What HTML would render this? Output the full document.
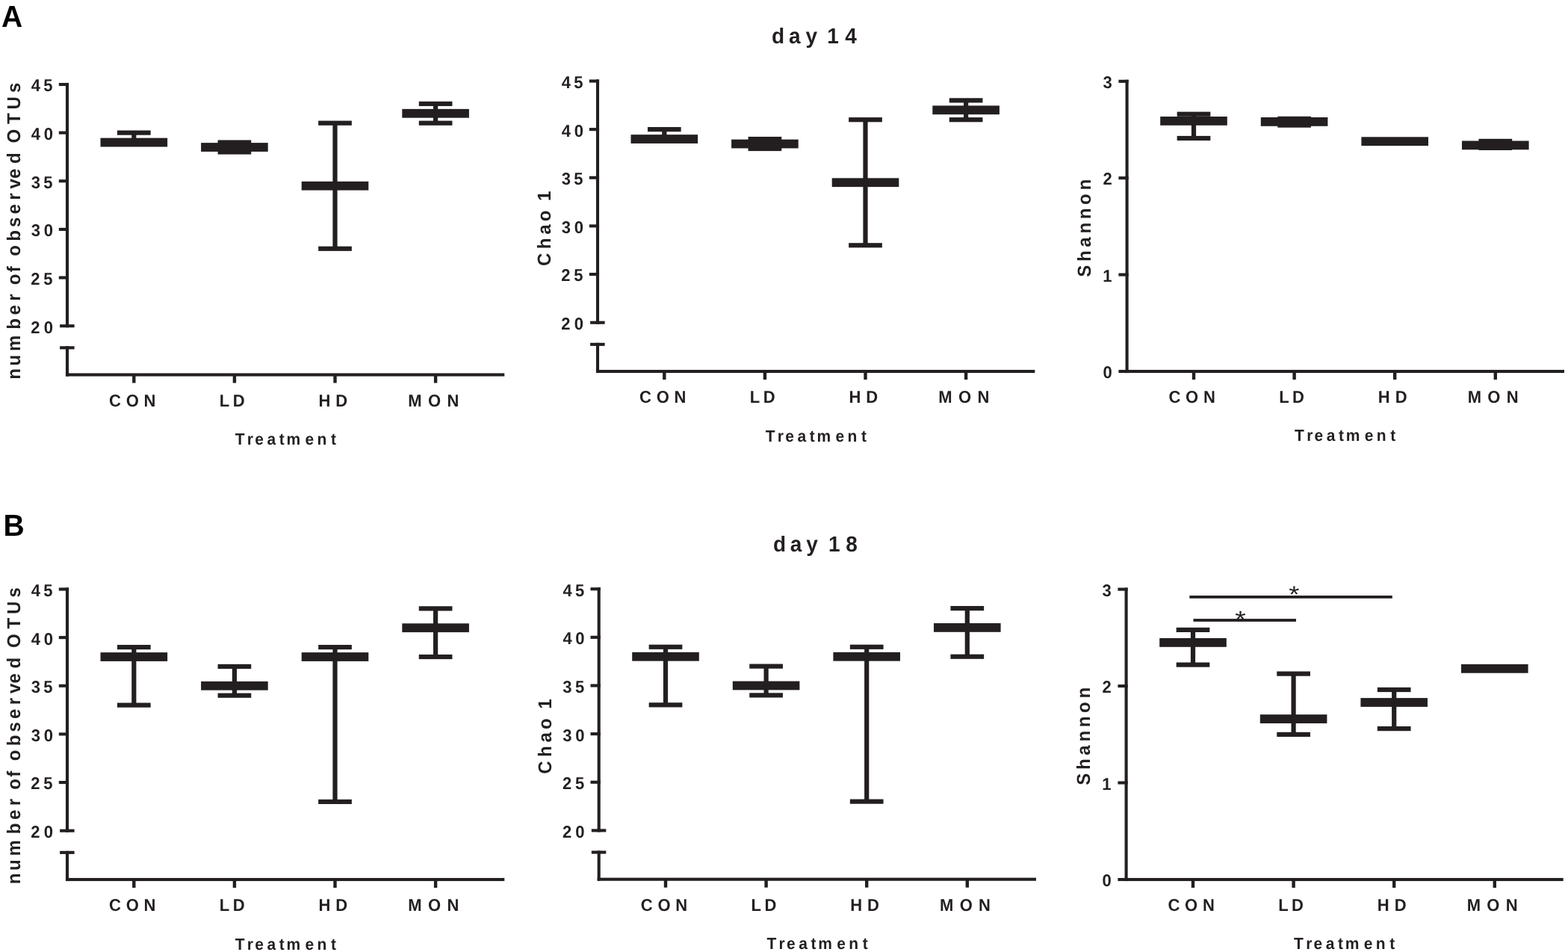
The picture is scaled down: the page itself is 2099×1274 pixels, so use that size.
<!DOCTYPE html>
<html><head><meta charset="utf-8"><style>
html,body{margin:0;padding:0;background:#fff;}
svg{display:block;}
text{font-family:"Liberation Sans",Arial,sans-serif;font-kerning:none;font-variant-ligatures:none;text-rendering:geometricPrecision;}
</style></head><body>
<svg width="2099" height="1274" viewBox="0 0 2099 1274">
<rect width="2099" height="1274" fill="#fff"/>
<text transform="translate(2.02,36.00) scale(0.9609,1)" font-size="40.59" font-weight="bold" letter-spacing="0.00" fill="#000">A</text>
<text transform="translate(4.46,716.80) scale(0.9609,1)" font-size="40.59" font-weight="bold" letter-spacing="0.00" fill="#000">B</text>
<text transform="translate(0,57.90) scale(0.9609,1)" x="1075.02 1098.94 1122.45 1138.66 1152.20 1177.22" font-size="29.14" font-weight="bold" fill="#231f20">day 14</text>
<text transform="translate(0,737.90) scale(0.9609,1)" x="1077.10 1100.81 1123.08 1139.29 1154.23 1178.44" font-size="29.14" font-weight="bold" fill="#231f20">day 18</text>
<rect x="87.95" y="110.95" width="4.10" height="327.30" fill="#231f20"/>
<rect x="78.80" y="110.95" width="13.25" height="4.10" fill="#231f20"/>
<rect x="78.80" y="175.59" width="13.25" height="4.10" fill="#231f20"/>
<rect x="78.80" y="240.23" width="13.25" height="4.10" fill="#231f20"/>
<rect x="78.80" y="304.87" width="13.25" height="4.10" fill="#231f20"/>
<rect x="78.80" y="369.51" width="13.25" height="4.10" fill="#231f20"/>
<rect x="80.10" y="434.15" width="19.50" height="4.10" fill="#231f20"/>
<rect x="80.10" y="463.30" width="19.50" height="4.10" fill="#231f20"/>
<rect x="87.95" y="463.30" width="4.10" height="40.25" fill="#231f20"/>
<rect x="87.95" y="499.45" width="587.35" height="4.10" fill="#231f20"/>
<rect x="177.10" y="501.50" width="4.40" height="11.00" fill="#231f20"/>
<rect x="311.70" y="501.50" width="4.40" height="11.00" fill="#231f20"/>
<rect x="446.30" y="501.50" width="4.40" height="11.00" fill="#231f20"/>
<rect x="580.90" y="501.50" width="4.40" height="11.00" fill="#231f20"/>
<text transform="translate(41.77,122.40) scale(0.9609,1)" font-size="22.90" font-weight="bold" letter-spacing="4.51" fill="#231f20">45</text>
<text transform="translate(41.77,187.04) scale(0.9609,1)" font-size="22.90" font-weight="bold" letter-spacing="4.85" fill="#231f20">40</text>
<text transform="translate(41.66,251.68) scale(0.9609,1)" font-size="22.90" font-weight="bold" letter-spacing="4.63" fill="#231f20">35</text>
<text transform="translate(41.66,316.32) scale(0.9609,1)" font-size="22.90" font-weight="bold" letter-spacing="4.97" fill="#231f20">30</text>
<text transform="translate(41.33,380.96) scale(0.9609,1)" font-size="22.90" font-weight="bold" letter-spacing="4.97" fill="#231f20">25</text>
<text transform="translate(41.33,445.60) scale(0.9609,1)" font-size="22.90" font-weight="bold" letter-spacing="5.31" fill="#231f20">20</text>
<text transform="translate(146.12,543.80) scale(0.9609,1)" font-size="22.90" font-weight="bold" letter-spacing="7.01" fill="#231f20">CON</text>
<text transform="translate(293.87,543.80) scale(0.9609,1)" font-size="22.90" font-weight="bold" letter-spacing="4.61" fill="#231f20">LD</text>
<text transform="translate(426.57,543.80) scale(0.9609,1)" font-size="22.90" font-weight="bold" letter-spacing="7.16" fill="#231f20">HD</text>
<text transform="translate(546.37,543.80) scale(0.9609,1)" font-size="22.90" font-weight="bold" letter-spacing="8.63" fill="#231f20">MON</text>
<text transform="translate(0,595.00) scale(0.9609,1)" x="327.60 344.30 355.15 372.02 389.00 399.14 425.08 441.81 461.02" font-size="21.85" font-weight="bold" fill="#231f20">Treatment</text>
<text transform="translate(27.00,0) rotate(-90) scale(0.9609,1)" x="-528.53 -509.46 -489.09 -458.70 -438.61 -419.26 -409.54 -396.88 -379.08 -370.77 -356.61 -335.95 -316.31 -298.12 -278.55 -262.90 -248.69 -227.87 -212.61 -199.36 -172.69 -152.50 -129.09" font-size="24.98" font-weight="bold" fill="#231f20">number of observed OTUs</text>
<rect x="176.20" y="177.64" width="6.20" height="12.93" fill="#231f20"/>
<rect x="156.95" y="174.54" width="44.70" height="6.20" fill="#231f20"/>
<rect x="156.95" y="187.47" width="44.70" height="6.20" fill="#231f20"/>
<rect x="134.50" y="184.67" width="89.60" height="11.80" fill="#231f20"/>
<rect x="310.80" y="190.57" width="6.20" height="12.93" fill="#231f20"/>
<rect x="291.55" y="187.47" width="44.70" height="6.20" fill="#231f20"/>
<rect x="291.55" y="200.40" width="44.70" height="6.20" fill="#231f20"/>
<rect x="269.10" y="191.13" width="89.60" height="11.80" fill="#231f20"/>
<rect x="445.40" y="164.71" width="6.20" height="168.06" fill="#231f20"/>
<rect x="426.15" y="161.61" width="44.70" height="6.20" fill="#231f20"/>
<rect x="426.15" y="329.68" width="44.70" height="6.20" fill="#231f20"/>
<rect x="403.70" y="242.84" width="89.60" height="11.80" fill="#231f20"/>
<rect x="580.00" y="138.86" width="6.20" height="25.86" fill="#231f20"/>
<rect x="560.75" y="135.76" width="44.70" height="6.20" fill="#231f20"/>
<rect x="560.75" y="161.61" width="44.70" height="6.20" fill="#231f20"/>
<rect x="538.30" y="145.88" width="89.60" height="11.80" fill="#231f20"/>
<rect x="797.95" y="106.45" width="4.10" height="327.30" fill="#231f20"/>
<rect x="788.80" y="106.45" width="13.25" height="4.10" fill="#231f20"/>
<rect x="788.80" y="171.09" width="13.25" height="4.10" fill="#231f20"/>
<rect x="788.80" y="235.73" width="13.25" height="4.10" fill="#231f20"/>
<rect x="788.80" y="300.37" width="13.25" height="4.10" fill="#231f20"/>
<rect x="788.80" y="365.01" width="13.25" height="4.10" fill="#231f20"/>
<rect x="790.10" y="429.65" width="19.50" height="4.10" fill="#231f20"/>
<rect x="790.10" y="458.80" width="19.50" height="4.10" fill="#231f20"/>
<rect x="797.95" y="458.80" width="4.10" height="40.25" fill="#231f20"/>
<rect x="797.95" y="494.95" width="587.35" height="4.10" fill="#231f20"/>
<rect x="887.10" y="497.00" width="4.40" height="11.00" fill="#231f20"/>
<rect x="1021.70" y="497.00" width="4.40" height="11.00" fill="#231f20"/>
<rect x="1156.30" y="497.00" width="4.40" height="11.00" fill="#231f20"/>
<rect x="1290.90" y="497.00" width="4.40" height="11.00" fill="#231f20"/>
<text transform="translate(751.77,117.90) scale(0.9609,1)" font-size="22.90" font-weight="bold" letter-spacing="4.51" fill="#231f20">45</text>
<text transform="translate(751.77,182.54) scale(0.9609,1)" font-size="22.90" font-weight="bold" letter-spacing="4.85" fill="#231f20">40</text>
<text transform="translate(751.66,247.18) scale(0.9609,1)" font-size="22.90" font-weight="bold" letter-spacing="4.63" fill="#231f20">35</text>
<text transform="translate(751.66,311.82) scale(0.9609,1)" font-size="22.90" font-weight="bold" letter-spacing="4.97" fill="#231f20">30</text>
<text transform="translate(751.33,376.46) scale(0.9609,1)" font-size="22.90" font-weight="bold" letter-spacing="4.97" fill="#231f20">25</text>
<text transform="translate(751.33,441.10) scale(0.9609,1)" font-size="22.90" font-weight="bold" letter-spacing="5.31" fill="#231f20">20</text>
<text transform="translate(856.12,539.30) scale(0.9609,1)" font-size="22.90" font-weight="bold" letter-spacing="7.01" fill="#231f20">CON</text>
<text transform="translate(1003.87,539.30) scale(0.9609,1)" font-size="22.90" font-weight="bold" letter-spacing="4.61" fill="#231f20">LD</text>
<text transform="translate(1136.57,539.30) scale(0.9609,1)" font-size="22.90" font-weight="bold" letter-spacing="7.16" fill="#231f20">HD</text>
<text transform="translate(1256.37,539.30) scale(0.9609,1)" font-size="22.90" font-weight="bold" letter-spacing="8.63" fill="#231f20">MON</text>
<text transform="translate(0,590.50) scale(0.9609,1)" x="1066.50 1083.19 1094.04 1110.91 1127.90 1138.04 1163.98 1180.71 1199.91" font-size="21.85" font-weight="bold" fill="#231f20">Treatment</text>
<text transform="translate(737.00,0) rotate(-90) scale(0.9609,1)" x="-370.45 -346.74 -326.59 -308.32 -293.06 -279.89" font-size="24.98" font-weight="bold" fill="#231f20">Chao 1</text>
<rect x="886.20" y="173.14" width="6.20" height="12.93" fill="#231f20"/>
<rect x="866.95" y="170.04" width="44.70" height="6.20" fill="#231f20"/>
<rect x="866.95" y="182.97" width="44.70" height="6.20" fill="#231f20"/>
<rect x="844.50" y="180.17" width="89.60" height="11.80" fill="#231f20"/>
<rect x="1020.80" y="186.07" width="6.20" height="12.93" fill="#231f20"/>
<rect x="1001.55" y="182.97" width="44.70" height="6.20" fill="#231f20"/>
<rect x="1001.55" y="195.90" width="44.70" height="6.20" fill="#231f20"/>
<rect x="979.10" y="186.63" width="89.60" height="11.80" fill="#231f20"/>
<rect x="1155.40" y="160.21" width="6.20" height="168.06" fill="#231f20"/>
<rect x="1136.15" y="157.11" width="44.70" height="6.20" fill="#231f20"/>
<rect x="1136.15" y="325.18" width="44.70" height="6.20" fill="#231f20"/>
<rect x="1113.70" y="238.34" width="89.60" height="11.80" fill="#231f20"/>
<rect x="1290.00" y="134.36" width="6.20" height="25.86" fill="#231f20"/>
<rect x="1270.75" y="131.26" width="44.70" height="6.20" fill="#231f20"/>
<rect x="1270.75" y="157.11" width="44.70" height="6.20" fill="#231f20"/>
<rect x="1248.30" y="141.38" width="89.60" height="11.80" fill="#231f20"/>
<rect x="87.95" y="786.45" width="4.10" height="327.30" fill="#231f20"/>
<rect x="78.80" y="786.45" width="13.25" height="4.10" fill="#231f20"/>
<rect x="78.80" y="851.09" width="13.25" height="4.10" fill="#231f20"/>
<rect x="78.80" y="915.73" width="13.25" height="4.10" fill="#231f20"/>
<rect x="78.80" y="980.37" width="13.25" height="4.10" fill="#231f20"/>
<rect x="78.80" y="1045.01" width="13.25" height="4.10" fill="#231f20"/>
<rect x="80.10" y="1109.65" width="19.50" height="4.10" fill="#231f20"/>
<rect x="80.10" y="1138.80" width="19.50" height="4.10" fill="#231f20"/>
<rect x="87.95" y="1138.80" width="4.10" height="40.25" fill="#231f20"/>
<rect x="87.95" y="1174.95" width="587.35" height="4.10" fill="#231f20"/>
<rect x="177.10" y="1177.00" width="4.40" height="11.00" fill="#231f20"/>
<rect x="311.70" y="1177.00" width="4.40" height="11.00" fill="#231f20"/>
<rect x="446.30" y="1177.00" width="4.40" height="11.00" fill="#231f20"/>
<rect x="580.90" y="1177.00" width="4.40" height="11.00" fill="#231f20"/>
<text transform="translate(41.77,797.90) scale(0.9609,1)" font-size="22.90" font-weight="bold" letter-spacing="4.51" fill="#231f20">45</text>
<text transform="translate(41.77,862.54) scale(0.9609,1)" font-size="22.90" font-weight="bold" letter-spacing="4.85" fill="#231f20">40</text>
<text transform="translate(41.66,927.18) scale(0.9609,1)" font-size="22.90" font-weight="bold" letter-spacing="4.63" fill="#231f20">35</text>
<text transform="translate(41.66,991.82) scale(0.9609,1)" font-size="22.90" font-weight="bold" letter-spacing="4.97" fill="#231f20">30</text>
<text transform="translate(41.33,1056.46) scale(0.9609,1)" font-size="22.90" font-weight="bold" letter-spacing="4.97" fill="#231f20">25</text>
<text transform="translate(41.33,1121.10) scale(0.9609,1)" font-size="22.90" font-weight="bold" letter-spacing="5.31" fill="#231f20">20</text>
<text transform="translate(146.12,1219.30) scale(0.9609,1)" font-size="22.90" font-weight="bold" letter-spacing="7.01" fill="#231f20">CON</text>
<text transform="translate(293.87,1219.30) scale(0.9609,1)" font-size="22.90" font-weight="bold" letter-spacing="4.61" fill="#231f20">LD</text>
<text transform="translate(426.57,1219.30) scale(0.9609,1)" font-size="22.90" font-weight="bold" letter-spacing="7.16" fill="#231f20">HD</text>
<text transform="translate(546.37,1219.30) scale(0.9609,1)" font-size="22.90" font-weight="bold" letter-spacing="8.63" fill="#231f20">MON</text>
<text transform="translate(0,1270.50) scale(0.9609,1)" x="327.60 344.30 355.15 372.02 389.00 399.14 425.08 441.81 461.02" font-size="21.85" font-weight="bold" fill="#231f20">Treatment</text>
<text transform="translate(27.00,0) rotate(-90) scale(0.9609,1)" x="-1231.52 -1212.45 -1192.08 -1161.69 -1141.60 -1122.25 -1112.53 -1099.87 -1082.08 -1073.76 -1059.60 -1038.94 -1019.30 -1001.11 -981.54 -965.89 -951.68 -930.86 -915.61 -902.35 -875.68 -855.50 -832.08" font-size="24.98" font-weight="bold" fill="#231f20">number of observed OTUs</text>
<rect x="176.20" y="866.07" width="6.20" height="77.57" fill="#231f20"/>
<rect x="156.95" y="862.97" width="44.70" height="6.20" fill="#231f20"/>
<rect x="156.95" y="940.54" width="44.70" height="6.20" fill="#231f20"/>
<rect x="134.50" y="873.10" width="89.60" height="11.80" fill="#231f20"/>
<rect x="310.80" y="891.92" width="6.20" height="38.78" fill="#231f20"/>
<rect x="291.55" y="888.82" width="44.70" height="6.20" fill="#231f20"/>
<rect x="291.55" y="927.61" width="44.70" height="6.20" fill="#231f20"/>
<rect x="269.10" y="911.88" width="89.60" height="11.80" fill="#231f20"/>
<rect x="445.40" y="866.07" width="6.20" height="206.85" fill="#231f20"/>
<rect x="426.15" y="862.97" width="44.70" height="6.20" fill="#231f20"/>
<rect x="426.15" y="1069.82" width="44.70" height="6.20" fill="#231f20"/>
<rect x="403.70" y="873.10" width="89.60" height="11.80" fill="#231f20"/>
<rect x="580.00" y="814.36" width="6.20" height="64.64" fill="#231f20"/>
<rect x="560.75" y="811.26" width="44.70" height="6.20" fill="#231f20"/>
<rect x="560.75" y="875.90" width="44.70" height="6.20" fill="#231f20"/>
<rect x="538.30" y="834.31" width="89.60" height="11.80" fill="#231f20"/>
<rect x="799.65" y="786.15" width="4.10" height="327.30" fill="#231f20"/>
<rect x="790.50" y="786.15" width="13.25" height="4.10" fill="#231f20"/>
<rect x="790.50" y="850.79" width="13.25" height="4.10" fill="#231f20"/>
<rect x="790.50" y="915.43" width="13.25" height="4.10" fill="#231f20"/>
<rect x="790.50" y="980.07" width="13.25" height="4.10" fill="#231f20"/>
<rect x="790.50" y="1044.71" width="13.25" height="4.10" fill="#231f20"/>
<rect x="791.80" y="1109.35" width="19.50" height="4.10" fill="#231f20"/>
<rect x="791.80" y="1138.50" width="19.50" height="4.10" fill="#231f20"/>
<rect x="799.65" y="1138.50" width="4.10" height="40.25" fill="#231f20"/>
<rect x="799.65" y="1174.65" width="587.35" height="4.10" fill="#231f20"/>
<rect x="888.80" y="1176.70" width="4.40" height="11.00" fill="#231f20"/>
<rect x="1023.40" y="1176.70" width="4.40" height="11.00" fill="#231f20"/>
<rect x="1158.00" y="1176.70" width="4.40" height="11.00" fill="#231f20"/>
<rect x="1292.60" y="1176.70" width="4.40" height="11.00" fill="#231f20"/>
<text transform="translate(753.47,797.60) scale(0.9609,1)" font-size="22.90" font-weight="bold" letter-spacing="4.51" fill="#231f20">45</text>
<text transform="translate(753.47,862.24) scale(0.9609,1)" font-size="22.90" font-weight="bold" letter-spacing="4.85" fill="#231f20">40</text>
<text transform="translate(753.36,926.88) scale(0.9609,1)" font-size="22.90" font-weight="bold" letter-spacing="4.63" fill="#231f20">35</text>
<text transform="translate(753.36,991.52) scale(0.9609,1)" font-size="22.90" font-weight="bold" letter-spacing="4.97" fill="#231f20">30</text>
<text transform="translate(753.03,1056.16) scale(0.9609,1)" font-size="22.90" font-weight="bold" letter-spacing="4.97" fill="#231f20">25</text>
<text transform="translate(753.03,1120.80) scale(0.9609,1)" font-size="22.90" font-weight="bold" letter-spacing="5.31" fill="#231f20">20</text>
<text transform="translate(857.82,1219.00) scale(0.9609,1)" font-size="22.90" font-weight="bold" letter-spacing="7.01" fill="#231f20">CON</text>
<text transform="translate(1005.57,1219.00) scale(0.9609,1)" font-size="22.90" font-weight="bold" letter-spacing="4.61" fill="#231f20">LD</text>
<text transform="translate(1138.27,1219.00) scale(0.9609,1)" font-size="22.90" font-weight="bold" letter-spacing="7.16" fill="#231f20">HD</text>
<text transform="translate(1258.07,1219.00) scale(0.9609,1)" font-size="22.90" font-weight="bold" letter-spacing="8.63" fill="#231f20">MON</text>
<text transform="translate(0,1270.20) scale(0.9609,1)" x="1068.27 1084.96 1095.81 1112.68 1129.67 1139.81 1165.75 1182.48 1201.68" font-size="21.85" font-weight="bold" fill="#231f20">Treatment</text>
<text transform="translate(737.80,0) rotate(-90) scale(0.9609,1)" x="-1077.91 -1054.21 -1034.06 -1015.78 -1000.53 -987.35" font-size="24.98" font-weight="bold" fill="#231f20">Chao 1</text>
<rect x="887.90" y="865.77" width="6.20" height="77.57" fill="#231f20"/>
<rect x="868.65" y="862.67" width="44.70" height="6.20" fill="#231f20"/>
<rect x="868.65" y="940.24" width="44.70" height="6.20" fill="#231f20"/>
<rect x="846.20" y="872.80" width="89.60" height="11.80" fill="#231f20"/>
<rect x="1022.50" y="891.62" width="6.20" height="38.78" fill="#231f20"/>
<rect x="1003.25" y="888.52" width="44.70" height="6.20" fill="#231f20"/>
<rect x="1003.25" y="927.31" width="44.70" height="6.20" fill="#231f20"/>
<rect x="980.80" y="911.58" width="89.60" height="11.80" fill="#231f20"/>
<rect x="1157.10" y="865.77" width="6.20" height="206.85" fill="#231f20"/>
<rect x="1137.85" y="862.67" width="44.70" height="6.20" fill="#231f20"/>
<rect x="1137.85" y="1069.52" width="44.70" height="6.20" fill="#231f20"/>
<rect x="1115.40" y="872.80" width="89.60" height="11.80" fill="#231f20"/>
<rect x="1291.70" y="814.06" width="6.20" height="64.64" fill="#231f20"/>
<rect x="1272.45" y="810.96" width="44.70" height="6.20" fill="#231f20"/>
<rect x="1272.45" y="875.60" width="44.70" height="6.20" fill="#231f20"/>
<rect x="1250.00" y="834.01" width="89.60" height="11.80" fill="#231f20"/>
<rect x="1506.55" y="106.75" width="4.10" height="392.30" fill="#231f20"/>
<rect x="1497.40" y="494.95" width="13.25" height="4.10" fill="#231f20"/>
<text transform="translate(1476.57,506.20) scale(0.9609,1)" font-size="22.90" font-weight="bold" letter-spacing="0.00" fill="#231f20">0</text>
<rect x="1497.40" y="365.55" width="13.25" height="4.10" fill="#231f20"/>
<text transform="translate(1476.24,376.80) scale(0.9609,1)" font-size="22.90" font-weight="bold" letter-spacing="0.00" fill="#231f20">1</text>
<rect x="1497.40" y="236.15" width="13.25" height="4.10" fill="#231f20"/>
<text transform="translate(1476.57,247.40) scale(0.9609,1)" font-size="22.90" font-weight="bold" letter-spacing="0.00" fill="#231f20">2</text>
<rect x="1497.40" y="106.75" width="13.25" height="4.10" fill="#231f20"/>
<text transform="translate(1476.46,118.00) scale(0.9609,1)" font-size="22.90" font-weight="bold" letter-spacing="0.00" fill="#231f20">3</text>
<rect x="1506.55" y="494.95" width="587.45" height="4.10" fill="#231f20"/>
<rect x="1595.80" y="497.00" width="4.40" height="11.00" fill="#231f20"/>
<rect x="1730.40" y="497.00" width="4.40" height="11.00" fill="#231f20"/>
<rect x="1865.00" y="497.00" width="4.40" height="11.00" fill="#231f20"/>
<rect x="1999.60" y="497.00" width="4.40" height="11.00" fill="#231f20"/>
<text transform="translate(1564.42,539.00) scale(0.9609,1)" font-size="22.90" font-weight="bold" letter-spacing="7.01" fill="#231f20">CON</text>
<text transform="translate(1712.17,539.00) scale(0.9609,1)" font-size="22.90" font-weight="bold" letter-spacing="4.61" fill="#231f20">LD</text>
<text transform="translate(1844.87,539.00) scale(0.9609,1)" font-size="22.90" font-weight="bold" letter-spacing="7.16" fill="#231f20">HD</text>
<text transform="translate(1964.67,539.00) scale(0.9609,1)" font-size="22.90" font-weight="bold" letter-spacing="8.63" fill="#231f20">MON</text>
<text transform="translate(0,590.20) scale(0.9609,1)" x="1803.62 1820.32 1831.17 1848.04 1865.02 1875.17 1901.10 1917.83 1937.04" font-size="21.85" font-weight="bold" fill="#231f20">Treatment</text>
<text transform="translate(1459.60,370.72) rotate(-90) scale(0.9609,1)" font-size="24.98" font-weight="bold" letter-spacing="4.89" fill="#231f20">Shannon</text>
<rect x="1594.90" y="152.70" width="6.20" height="32.30" fill="#231f20"/>
<rect x="1575.65" y="149.60" width="44.70" height="6.20" fill="#231f20"/>
<rect x="1575.65" y="181.90" width="44.70" height="6.20" fill="#231f20"/>
<rect x="1553.20" y="156.00" width="89.60" height="11.80" fill="#231f20"/>
<rect x="1729.50" y="158.90" width="6.20" height="8.70" fill="#231f20"/>
<rect x="1710.25" y="155.80" width="44.70" height="6.20" fill="#231f20"/>
<rect x="1710.25" y="164.50" width="44.70" height="6.20" fill="#231f20"/>
<rect x="1687.80" y="157.00" width="89.60" height="11.80" fill="#231f20"/>
<rect x="1844.85" y="186.10" width="44.70" height="6.20" fill="#231f20"/>
<rect x="1844.85" y="186.10" width="44.70" height="6.20" fill="#231f20"/>
<rect x="1822.40" y="183.30" width="89.60" height="11.80" fill="#231f20"/>
<rect x="1998.70" y="188.90" width="6.20" height="9.00" fill="#231f20"/>
<rect x="1979.45" y="185.80" width="44.70" height="6.20" fill="#231f20"/>
<rect x="1979.45" y="194.80" width="44.70" height="6.20" fill="#231f20"/>
<rect x="1957.00" y="188.50" width="89.60" height="11.80" fill="#231f20"/>
<rect x="1505.55" y="786.55" width="4.10" height="392.50" fill="#231f20"/>
<rect x="1496.40" y="1174.95" width="13.25" height="4.10" fill="#231f20"/>
<text transform="translate(1475.57,1186.20) scale(0.9609,1)" font-size="22.90" font-weight="bold" letter-spacing="0.00" fill="#231f20">0</text>
<rect x="1496.40" y="1045.48" width="13.25" height="4.10" fill="#231f20"/>
<text transform="translate(1475.24,1056.73) scale(0.9609,1)" font-size="22.90" font-weight="bold" letter-spacing="0.00" fill="#231f20">1</text>
<rect x="1496.40" y="916.02" width="13.25" height="4.10" fill="#231f20"/>
<text transform="translate(1475.57,927.27) scale(0.9609,1)" font-size="22.90" font-weight="bold" letter-spacing="0.00" fill="#231f20">2</text>
<rect x="1496.40" y="786.55" width="13.25" height="4.10" fill="#231f20"/>
<text transform="translate(1475.46,797.80) scale(0.9609,1)" font-size="22.90" font-weight="bold" letter-spacing="0.00" fill="#231f20">3</text>
<rect x="1505.55" y="1174.95" width="587.15" height="4.10" fill="#231f20"/>
<rect x="1594.80" y="1177.00" width="4.40" height="11.00" fill="#231f20"/>
<rect x="1729.40" y="1177.00" width="4.40" height="11.00" fill="#231f20"/>
<rect x="1864.00" y="1177.00" width="4.40" height="11.00" fill="#231f20"/>
<rect x="1998.60" y="1177.00" width="4.40" height="11.00" fill="#231f20"/>
<text transform="translate(1563.42,1219.00) scale(0.9609,1)" font-size="22.90" font-weight="bold" letter-spacing="7.01" fill="#231f20">CON</text>
<text transform="translate(1711.17,1219.00) scale(0.9609,1)" font-size="22.90" font-weight="bold" letter-spacing="4.61" fill="#231f20">LD</text>
<text transform="translate(1843.87,1219.00) scale(0.9609,1)" font-size="22.90" font-weight="bold" letter-spacing="7.16" fill="#231f20">HD</text>
<text transform="translate(1963.67,1219.00) scale(0.9609,1)" font-size="22.90" font-weight="bold" letter-spacing="8.63" fill="#231f20">MON</text>
<text transform="translate(0,1270.20) scale(0.9609,1)" x="1802.58 1819.28 1830.13 1847.00 1863.98 1874.12 1900.06 1916.79 1936.00" font-size="21.85" font-weight="bold" fill="#231f20">Treatment</text>
<text transform="translate(1458.60,1050.72) rotate(-90) scale(0.9609,1)" font-size="24.98" font-weight="bold" letter-spacing="4.89" fill="#231f20">Shannon</text>
<rect x="1593.90" y="842.90" width="6.20" height="46.70" fill="#231f20"/>
<rect x="1574.65" y="839.80" width="44.70" height="6.20" fill="#231f20"/>
<rect x="1574.65" y="886.50" width="44.70" height="6.20" fill="#231f20"/>
<rect x="1552.20" y="854.00" width="89.60" height="11.80" fill="#231f20"/>
<rect x="1728.50" y="901.60" width="6.20" height="81.30" fill="#231f20"/>
<rect x="1709.25" y="898.50" width="44.70" height="6.20" fill="#231f20"/>
<rect x="1709.25" y="979.80" width="44.70" height="6.20" fill="#231f20"/>
<rect x="1686.80" y="956.20" width="89.60" height="11.80" fill="#231f20"/>
<rect x="1863.10" y="923.00" width="6.20" height="52.10" fill="#231f20"/>
<rect x="1843.85" y="919.90" width="44.70" height="6.20" fill="#231f20"/>
<rect x="1843.85" y="972.00" width="44.70" height="6.20" fill="#231f20"/>
<rect x="1821.40" y="934.10" width="89.60" height="11.80" fill="#231f20"/>
<rect x="1978.45" y="891.70" width="44.70" height="6.20" fill="#231f20"/>
<rect x="1978.45" y="891.70" width="44.70" height="6.20" fill="#231f20"/>
<rect x="1956.00" y="888.90" width="89.60" height="11.80" fill="#231f20"/>
<rect x="1592.30" y="797.00" width="271.50" height="3.80" fill="#231f20"/>
<rect x="1597.50" y="828.10" width="137.50" height="3.80" fill="#231f20"/>
<text transform="translate(1725.37,806.39) scale(1.174,1)" font-size="31.14" font-weight="normal" fill="#231f20">*</text>
<text transform="translate(1653.26,840.08) scale(1.150,1)" font-size="32.29" font-weight="normal" fill="#231f20">*</text>
</svg>
</body></html>
